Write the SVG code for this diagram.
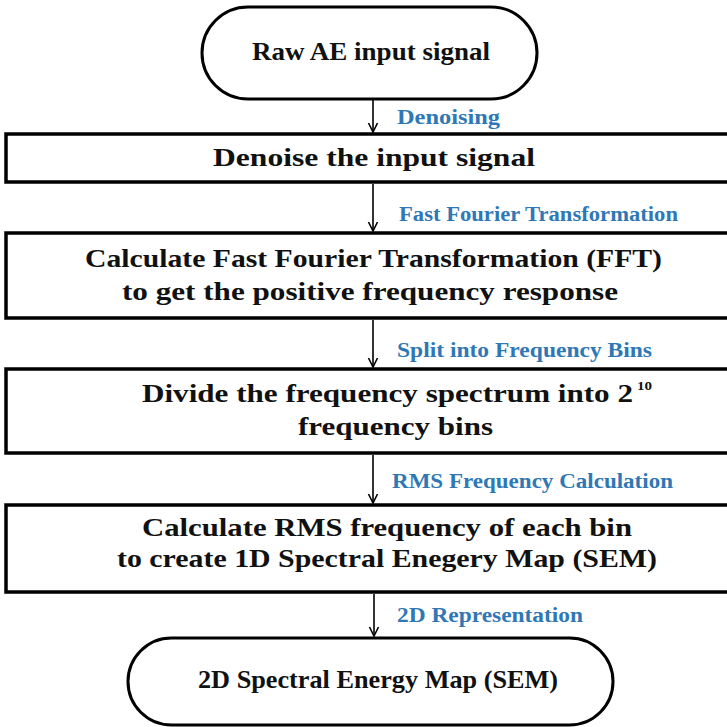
<svg xmlns="http://www.w3.org/2000/svg" width="727" height="727" viewBox="0 0 727 727">
<style>
.bx{fill:#fff;stroke:#000;stroke-width:3.5}
.st{fill:#fff;stroke:#000;stroke-width:3}
.t{font-family:"Liberation Serif","DejaVu Serif",serif;font-weight:bold;font-size:26px;fill:#111}
.sup{font-family:"Liberation Serif","DejaVu Serif",serif;font-weight:bold;font-size:12px;fill:#111}
.lb{font-family:"Liberation Serif","DejaVu Serif",serif;font-weight:bold;font-size:20px;fill:#2f78b5}
.c{stroke:#000;stroke-width:1.6;fill:none}
</style>
<defs>
<marker id="ah" viewBox="0 0 12 12" refX="11" refY="6" markerWidth="12" markerHeight="12" markerUnits="userSpaceOnUse" orient="auto">
<path d="M2,1.5 L11,6 L2,10.5" fill="none" stroke="#000" stroke-width="1.6"/>
</marker>
</defs>
<rect width="727" height="727" fill="#fff"/>
<g id="connectors">
<line class="c" x1="373" y1="99" x2="373" y2="132" marker-end="url(#ah)"/>
<line class="c" x1="373" y1="184" x2="373" y2="231" marker-end="url(#ah)"/>
<line class="c" x1="373" y1="320" x2="373" y2="367" marker-end="url(#ah)"/>
<line class="c" x1="373" y1="455" x2="373" y2="503" marker-end="url(#ah)"/>
<line class="c" x1="374" y1="594" x2="374" y2="636" marker-end="url(#ah)"/>
<text class="lb" x="397" y="124" textLength="103" lengthAdjust="spacingAndGlyphs">Denoising</text>
<text class="lb" x="399" y="221" textLength="279" lengthAdjust="spacingAndGlyphs">Fast Fourier Transformation</text>
<text class="lb" x="397" y="357" textLength="255" lengthAdjust="spacingAndGlyphs">Split into Frequency Bins</text>
<text class="lb" x="392" y="488" textLength="281" lengthAdjust="spacingAndGlyphs">RMS Frequency Calculation</text>
<text class="lb" x="397" y="622" textLength="186" lengthAdjust="spacingAndGlyphs">2D Representation</text>
</g>
<g id="start">
<rect class="st" x="202" y="7" width="335" height="92" rx="46" ry="46"/>
<text class="t" x="252" y="60" textLength="238" lengthAdjust="spacingAndGlyphs">Raw AE input signal</text>
</g>
<g id="denoise">
<rect class="bx" x="6" y="134" width="800" height="48"/>
<text class="t" x="213" y="166" textLength="322" lengthAdjust="spacingAndGlyphs">Denoise the input signal</text>
</g>
<g id="fft">
<rect class="bx" x="6" y="233" width="800" height="85"/>
<text class="t" x="85" y="267" textLength="577" lengthAdjust="spacingAndGlyphs">Calculate Fast Fourier Transformation (FFT)</text>
<text class="t" x="122" y="300" textLength="496" lengthAdjust="spacingAndGlyphs">to get the positive frequency response</text>
</g>
<g id="bins">
<rect class="bx" x="6" y="369" width="800" height="84"/>
<text class="t" x="142" y="402" textLength="491" lengthAdjust="spacingAndGlyphs">Divide the frequency spectrum into 2</text>
<text class="sup" x="637" y="390" textLength="15" lengthAdjust="spacingAndGlyphs">10</text>
<text class="t" x="298" y="435" textLength="195" lengthAdjust="spacingAndGlyphs">frequency bins</text>
</g>
<g id="rms">
<rect class="bx" x="6" y="505" width="800" height="87"/>
<text class="t" x="142" y="536" textLength="490" lengthAdjust="spacingAndGlyphs">Calculate RMS frequency of each bin</text>
<text class="t" x="117" y="567" textLength="540" lengthAdjust="spacingAndGlyphs">to create 1D Spectral Enegery Map (SEM)</text>
</g>
<g id="end">
<rect class="st" x="128" y="638" width="485" height="87" rx="43.5" ry="43.5"/>
<text class="t" x="198" y="688" textLength="360" lengthAdjust="spacingAndGlyphs">2D Spectral Energy Map (SEM)</text>
</g>
</svg>
